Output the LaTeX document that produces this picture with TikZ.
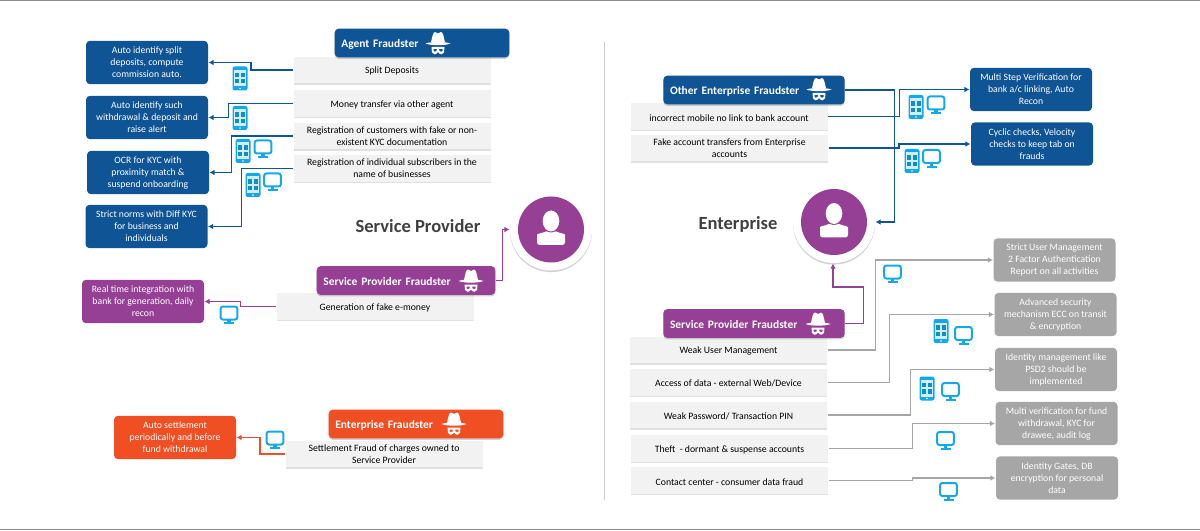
\documentclass[tikz,border=0pt]{standalone}
\usepackage{fontspec}
\setmainfont{Carlito}
\usetikzlibrary{shadows,arrows.meta}

\definecolor{agentblue}{HTML}{0F5494}
\definecolor{fraudpurple}{HTML}{953F95}
\definecolor{fraudorange}{HTML}{F04E23}
\definecolor{fixgray}{HTML}{A6A6A6}
\definecolor{issuegray}{HTML}{F2F2F2}
\definecolor{iconcyan}{HTML}{14A8E8}

\tikzset{every picture/.style={line width=0.75pt}}
\tikzset{
	every pic/.style={yscale=-1},
	softshadow/.style={drop shadow={shadow xshift=0pt,shadow yshift=-1.2pt,opacity=0.3,fill=black!60}},
	fixbox/.style={fill=#1,rounded corners=3pt,text=white,font=\fontsize{7.3}{9}\selectfont,align=center,minimum width=91.5pt,minimum height=32.5pt,inner sep=0pt,execute at begin node={\rule{0pt}{7pt}}},
	issuebox/.style={fill=issuegray,text=black,font=\fontsize{7.3}{9}\selectfont,align=center,minimum width=147.75pt,minimum height=20pt,inner sep=0pt,execute at begin node={\rule{0pt}{7pt}},drop shadow={shadow xshift=0pt,shadow yshift=-1pt,opacity=0.3,fill=black!40}},
	fraudhead/.style 2 args={fill=#1,rounded corners=3pt,text=white,font=\fontsize{8.6}{11}\selectfont\bfseries,align=left,text width=#2,minimum height=21.5pt,inner ysep=0pt,inner xsep=5pt,execute at begin node={\rule{0pt}{8pt}},softshadow},
	sidelabel/.style={text=black!75,font=\fontsize{13.9}{16}\selectfont\bfseries,inner sep=0pt},
	userdisc/.style={circle,fill=white,minimum size=61.5pt,inner sep=0pt,softshadow},
	link/.style={draw=#1,line width=0.85pt,-{Latex[length=3.8pt,width=4.2pt]}},
	link/.default=agentblue,
	pics/phone/.style={code={
		\fill[iconcyan,rounded corners=1.6pt] (-7.5,-12) rectangle (7.5,12);
		\fill[white!80!iconcyan] (-5.7,-8.5) rectangle (5.7,8);
		\foreach \cx in {-3,3} \foreach \cy in {-3.5,2.8}
			\fill[iconcyan!85!black] (\cx-2.2,\cy-2.2) rectangle (\cx+2.2,\cy+2.2);
		\fill[white] (0,10) circle (0.9);
	}},
	pics/monitor/.style={code={
		\draw[iconcyan,line width=1.5pt,fill=white,rounded corners=1.6pt] (-8.3,-8) rectangle (8.3,5);
		\fill[iconcyan] (-1.8,5) rectangle (1.8,8);
		\fill[iconcyan] (-5,7.7) rectangle (5,9.6);
	}},
	pics/spyhat/.style={code={
		\fill[white] (-7,-1) .. controls (-6,-6) and (-5,-11.5) .. (-3,-11.5) .. controls (-1.5,-11.5) and (-1,-10) .. (0,-10) .. controls (1,-10) and (1.5,-11.5) .. (3,-11.5) .. controls (5,-11.5) and (6,-6) .. (7,-1) -- cycle;
		\fill[white] (-12.5,0) .. controls (-8,-2) and (8,-2) .. (12.5,0) .. controls (8,2.2) and (-8,2.2) .. (-12.5,0) -- cycle;
		\fill[white,even odd rule] (-6.5,3.5) -- (6.5,3.5) -- (6,9) .. controls (5,11.5) and (2,11.5) .. (0,8.5) .. controls (-2,11.5) and (-5,11.5) .. (-6,9) -- cycle
			(-4.5,5.5) -- (-1,5.5) -- (-1.5,7.5) .. controls (-2.5,8.5) and (-4,8.5) .. (-4.5,7.5) -- cycle
			(4.5,5.5) -- (1,5.5) -- (1.5,7.5) .. controls (2.5,8.5) and (4,8.5) .. (4.5,7.5) -- cycle;
	}},
	pics/userglyph/.style={code={
		\fill[fraudpurple] (0,0) circle (33);
		\fill[white] (0,-8.5) ellipse (8.3 and 10.5);
		\fill[white,rounded corners=2pt] (-14,15.5) -- (-14,8) .. controls (-14,4) and (-8,3.5) .. (-5,1) .. controls (-2,3) and (2,3) .. (5,1) .. controls (8,3.5) and (14,4) .. (14,8) -- (14,15.5) -- cycle;
	}},
}

\begin{document}
\begin{tikzpicture}[x=0.75pt,y=0.75pt,yscale=-1,xscale=1]
	\useasboundingbox (0,0) rectangle (1200,531);
	
	% Frame lines
	\draw [color=black!45] (0,0.5) -- (1200,0.5) ;
	\draw [color=black!45] (0,529.5) -- (1200,529.5) ;
	\draw [color=black!20] (604.5,42) -- (604.5,500) ;
	
	% Service provider side
	\node [sidelabel] (splabel) at (418,226) {Service Provider};
	\node [userdisc] (spuser) at (551,229.5) {};
	\pic at (spuser.center) {userglyph};
	
	\node [issuebox] (splitdep) at (392,70) {Split Deposits};
	\node [issuebox] (moneytr) at (392,103.5) {Money transfer via other agent};
	\node [issuebox] (regfake) at (392,136) {Registration of customers with fake or non-\\existent KYC documentation};
	\node [issuebox] (regbiz) at (392,168.5) {Registration of individual subscribers in the\\name of businesses};
	\node [fraudhead={agentblue}{121pt}] (agenthead) at (422,43) {Agent Fraudster};
	
	\node [fixbox=agentblue] (autosplit) at (147,62.5) {Auto identify split\\deposits, compute\\commission auto.};
	\node [fixbox=agentblue] (autoalert) at (147,117.5) {Auto identify such\\withdrawal \& deposit and\\raise alert};
	\node [fixbox=agentblue] (ocrkyc) at (148,172.5) {OCR for KYC with\\proximity match \&\\suspend onboarding};
	\node [fixbox=agentblue] (diffkyc) at (146.5,226.5) {Strict norms with Diff KYC\\for business and\\individuals};
	
	\draw [link] (splitdep.west) -- ++(-42,0) |- (autosplit.east) ;
	\draw [link] (moneytr.west) -- ++(-64.5,0) |- (autoalert.east) ;
	\draw [link] (regfake.west) -- ++(-61.5,0) |- (ocrkyc.east) ;
	\draw [link] (regbiz.west) -- ++(-51.5,0) |- (diffkyc.east) ;
	
	\pic at (240,78.5) {phone};
	\pic at (240,118) {phone};
	\pic at (243,151) {phone};
	\pic at (263,148.5) {monitor};
	\pic at (253,185) {phone};
	\pic at (272.5,181.5) {monitor};
	
	\node [issuebox] (fakemoney) at (375,306.5) {Generation of fake e-money};
	\node [fraudhead={fraudpurple}{124pt}] (spheadl) at (406,280.5) {Service Provider Fraudster};
	\node [fixbox=fraudpurple] (realtime) at (143,301.5) {Real time integration with\\bank for generation, daily\\recon};
	
	\draw [link=fraudpurple] (fakemoney.west) -- ++(-35.5,0) |- (realtime.east) ;
	\draw [link=fraudpurple] (spheadl.east) -- ++(7,0) |- (spuser.west) ;
	\pic at (229,314.5) {monitor};
	
	\node [issuebox] (settle) at (384,454) {Settlement Fraud of charges owned to\\Service Provider};
	\node [fraudhead={fraudorange}{121pt}] (enthead) at (416,424) {Enterprise Fraudster};
	\node [fixbox=fraudorange] (autosettle) at (175,437.5) {Auto settlement\\periodically and before\\fund withdrawal};
	
	\draw [link=fraudorange] (settle.west) -- ++(-25,0) |- (autosettle.east) ;
	\pic at (275,439.5) {monitor};
	
	\pic at (438,43.5) {spyhat};
	\pic at (471,281) {spyhat};
	\pic at (454,424) {spyhat};
	
	% Enterprise side
	\node [sidelabel] (entlabel) at (738,224) {Enterprise};
	\node [userdisc] (entuser) at (834,222) {};
	\pic at (entuser.center) {userglyph};
	
	\node [issuebox] (badmobile) at (729,116.5) {incorrect mobile no link to bank account};
	\node [issuebox] (fakeacct) at (729.5,148) {Fake account transfers from Enterprise\\accounts};
	\node [fraudhead={agentblue}{126pt}] (otherhead) at (754,90) {Other Enterprise Fraudster};
	\node [fixbox=agentblue] (multistep) at (1031,89.5) {Multi Step Verification for\\bank a/c linking, Auto\\Recon};
	\node [fixbox=agentblue] (cyclic) at (1032,144) {Cyclic checks, Velocity\\checks to keep tab on\\frauds};
	
	\draw [link] (otherhead.east) -- ++(49,0) |- (entuser.east) ;
	\draw [link] (badmobile.east) -- ++(71.5,0) |- (multistep.west) ;
	\draw [link] (fakeacct.east) -- ++(70.5,0) |- (cyclic.west) ;
	
	\pic at (916,107) {phone};
	\pic at (936,104.5) {monitor};
	\pic at (912,161) {phone};
	\pic at (931.5,158) {monitor};
	
	\node [issuebox] (weakuser) at (728.5,350) {Weak User Management};
	\node [issuebox] (dataacc) at (728.5,382.5) {Access of data - external Web/Device};
	\node [issuebox] (weakpin) at (728.5,415) {Weak Password/ Transaction PIN};
	\node [issuebox] (theft) at (729.5,448.5) {Theft\ \ - dormant \& suspense accounts};
	\node [issuebox] (contact) at (729.5,480.5) {Contact center - consumer data fraud};
	\node [fraudhead={fraudpurple}{126pt}] (spheadr) at (754,323.5) {Service Provider Fraudster};
	
	\node [fixbox=fixgray] (strictuser) at (1054.5,260) {Strict User Management\\2 Factor Authentication\\Report on all activities};
	\node [fixbox=fixgray] (advsec) at (1055.5,314.5) {Advanced security\\mechanism ECC on transit\\\& encryption};
	\node [fixbox=fixgray] (psd) at (1056,369.5) {Identity management like\\PSD2 should be\\implemented};
	\node [fixbox=fixgray] (multiver) at (1056.5,423.5) {Multi verification for fund\\withdrawal, KYC for\\drawee, audit log};
	\node [fixbox=fixgray] (gates) at (1057,478) {Identity Gates, DB\\encryption for personal\\data};
	
	\draw [link=fraudpurple] (spheadr.east) -- ++(18,0) |- (833,287) -- (833,263.5) ;
	\draw [link=fixgray] (weakuser.east) -- ++(48,0) |- (strictuser.west) ;
	\draw [link=fixgray] (dataacc.east) -- ++(62,0) |- (advsec.west) ;
	\draw [link=fixgray] (weakpin.east) -- ++(83,0) |- (psd.west) ;
	\draw [link=fixgray] (theft.east) -- ++(84,0) |- (multiver.west) ;
	\draw [link=fixgray] (contact.east) -- ++(84,0) |- (gates.west) ;
	
	\pic at (892.5,273.5) {monitor};
	\pic at (941,331) {phone};
	\pic at (963.5,335) {monitor};
	\pic at (927,388.5) {phone};
	\pic at (950.5,391) {monitor};
	\pic at (945.5,440) {monitor};
	\pic at (948.5,491) {monitor};
	
	\pic at (819,89.5) {spyhat};
	\pic at (818,324) {spyhat};
\end{tikzpicture}
\end{document}
